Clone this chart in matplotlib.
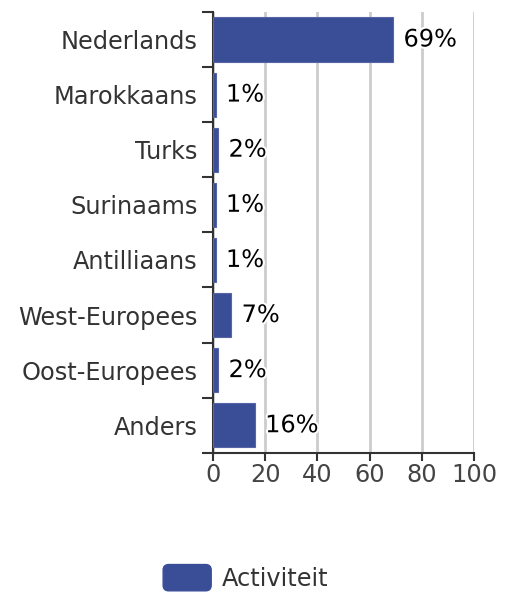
import matplotlib
matplotlib.use("Agg")
import matplotlib.pyplot as plt
import matplotlib.patheffects as pe
from matplotlib.patches import FancyBboxPatch, Patch
from matplotlib.legend_handler import HandlerPatch

categories = ["Nederlands", "Marokkaans", "Turks", "Surinaams", "Antilliaans",
              "West-Europees", "Oost-Europees", "Anders"]
values = [69, 1, 2, 1, 1, 7, 2, 16]
series_name = "Activiteit"
xticks = [0, 20, 40, 60, 80, 100]

bar_color = "#3a4d97"
text_color = "#333333"
fs = 17.3

fig = plt.figure(figsize=(5.07, 5.95), dpi=100)
ax = fig.add_axes([0.420, 0.239, 0.515, 0.741])

ypos = list(range(len(categories)))
ax.barh(ypos, values, height=0.8, color=bar_color, edgecolor="#5565a8", linewidth=0.8, zorder=3)

for y, v in zip(ypos, values):
    t = ax.annotate(f"{v}%", (v, y), xytext=(7.5, 0), textcoords="offset points",
                    va="center", ha="left", fontsize=fs, color="black", zorder=4)
    t.set_path_effects([pe.withStroke(linewidth=3, foreground="white")])

ax.set_xlim(0, 100)
ax.set_ylim(len(categories) - 0.5, -0.5)
ax.set_xticks(xticks)
ax.set_xticklabels([str(x) for x in xticks], fontsize=fs, color="#444444")
ax.set_yticks(ypos)
ax.set_yticklabels(categories, fontsize=fs, color=text_color)
ax.tick_params(axis="y", which="major", length=0, pad=11)
ax.set_yticks([y - 0.5 for y in ypos] + [len(categories) - 0.5], minor=True)
ax.tick_params(axis="y", which="minor", length=8, width=1.5, color="#333333")
ax.tick_params(axis="x", length=6, width=1.5, color="#333333", pad=1)

ax.grid(axis="x", color="#cccccc", linewidth=2, zorder=0)
for s in ["top", "right"]:
    ax.spines[s].set_visible(False)
for s in ["left", "bottom"]:
    ax.spines[s].set_color("#333333")
    ax.spines[s].set_linewidth(1.5)


class RoundHandler(HandlerPatch):
    def create_artists(self, legend, orig_handle, xdescent, ydescent, width, height, fontsize, trans):
        p = FancyBboxPatch((-xdescent, -ydescent - 2), width, height + 4,
                           boxstyle="round,pad=0,rounding_size=4",
                           facecolor=bar_color, edgecolor=bar_color, transform=trans)
        return [p]


handle = Patch(color=bar_color, label=series_name)
fig.legend(handles=[handle], loc="center", bbox_to_anchor=(0.485, 0.027), frameon=False,
           fontsize=fs, handler_map={Patch: RoundHandler()}, handlelength=2.0,
           handleheight=0.95, handletextpad=0.45, labelcolor=text_color)

fig.savefig("out.png", dpi=100)
